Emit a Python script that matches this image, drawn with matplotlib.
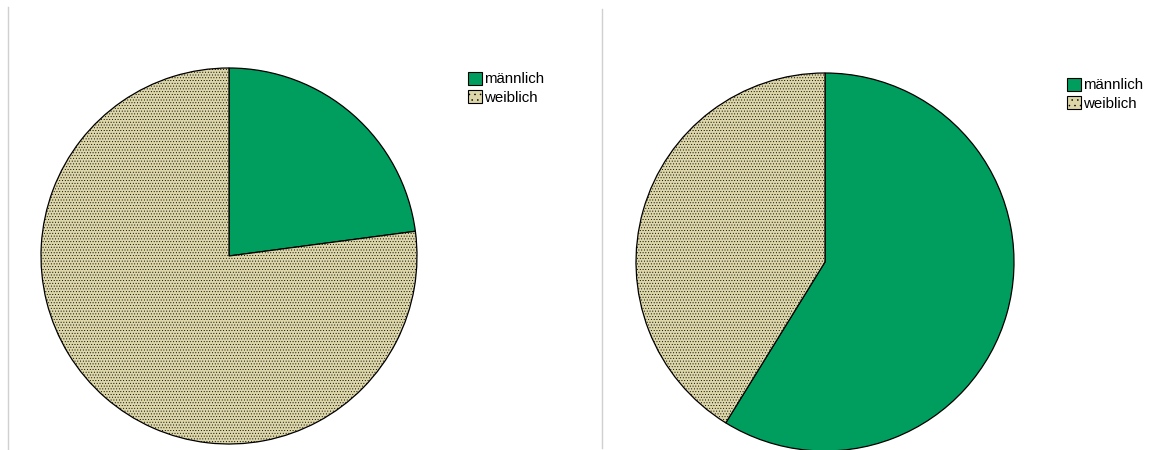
import matplotlib.pyplot as plt
from matplotlib.patches import Patch
from matplotlib.lines import Line2D

# Geschlechterverteilung in zwei Gruppen (Anteile in %)
labels = ['männlich', 'weiblich']
group_a = [22.9, 77.1]
group_b = [58.8, 41.2]

colors = ['#009E5E', '#DDD6A8']
hatches = ['', '......']

plt.rcParams['font.family'] = ['Liberation Sans', 'DejaVu Sans']
plt.rcParams['hatch.linewidth'] = 0.35

W, H = 1176, 450
fig = plt.figure(figsize=(W / 100, H / 100), dpi=100)


def pie_axes(cx, cy, r):
    """Axes in pixel layout, so that a unit pie has radius r."""
    ax = fig.add_axes([(cx - r) / W, (H - cy - r) / H, 2 * r / W, 2 * r / H])
    ax.axis('off')
    return ax


def draw_pie(ax, values):
    wedges, _ = ax.pie(values, colors=colors, startangle=90, counterclock=False,
                       wedgeprops=dict(edgecolor='black', linewidth=0.9))
    for w, h in zip(wedges, hatches):
        w.set_hatch(h)
        w.set_clip_on(False)
    # pie() setzt eigene Grenzen, danach zurück auf den Einheitskreis
    ax.set_xlim(-1, 1)
    ax.set_ylim(-1, 1)
    ax.set_aspect('equal')


def draw_legend(x, y):
    handles = [Patch(facecolor=c, edgecolor='black', hatch=h if h == '' else '...',
                     linewidth=0.8) for c, h in zip(colors, hatches)]
    fig.legend(handles, labels, loc='upper left', bbox_to_anchor=(x / W, 1 - y / H),
               bbox_transform=fig.transFigure, frameon=False, fontsize=10.8,
               handlelength=0.92, handleheight=0.92, handletextpad=0.15,
               labelspacing=0.25, borderpad=0, borderaxespad=0)


ax1 = pie_axes(229, 256, 188)
draw_pie(ax1, group_a)
draw_legend(468, 72)

ax2 = pie_axes(825, 262, 189)
draw_pie(ax2, group_b)
draw_legend(1067, 78)

# hellgraue Trennlinien der beiden Diagrammfelder
fig.add_artist(Line2D([7.5 / W, 7.5 / W], [1 - 7 / H, 0], color='#D0D0D0', lw=1))
fig.add_artist(Line2D([601.5 / W, 601.5 / W], [1 - 9 / H, 1 - 448 / H],
                      color='#D0D0D0', lw=1))

fig.savefig('out.png', dpi=100)
